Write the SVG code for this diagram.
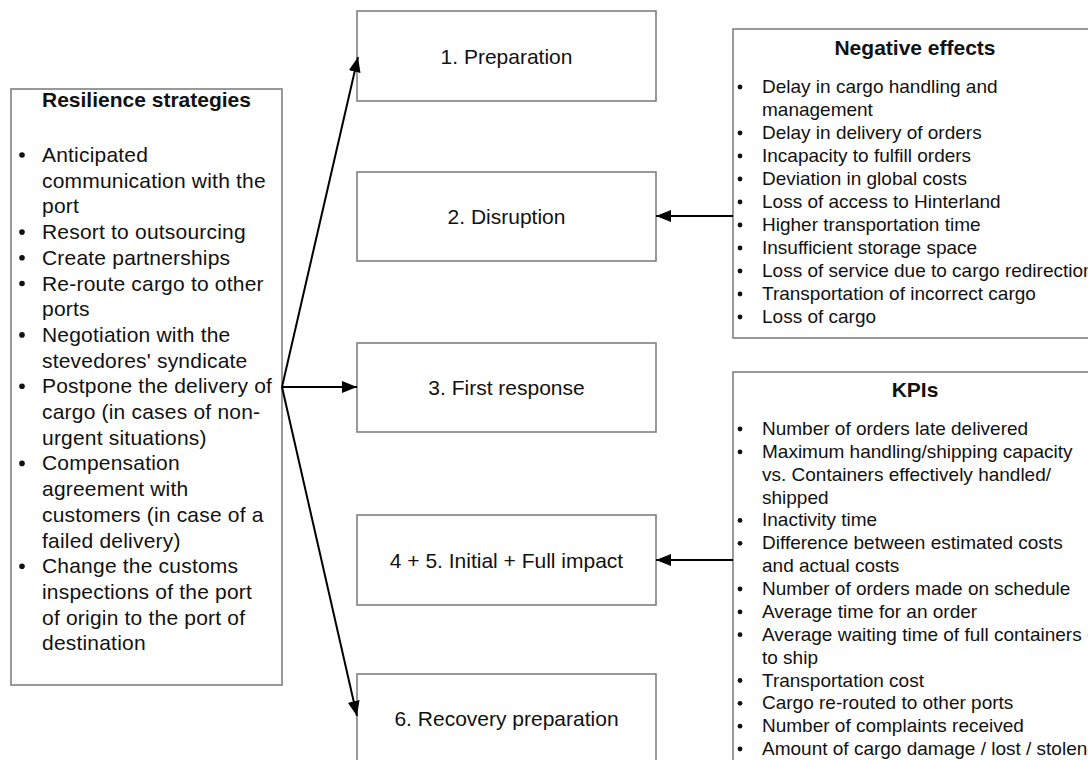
<svg xmlns="http://www.w3.org/2000/svg" width="1088" height="760" viewBox="0 0 1088 760">
  <style>
    .box { fill: #ffffff; stroke: #808080; stroke-width: 1.6; }
    .t { font-family: "Liberation Sans", Arial, sans-serif; fill: #111111; }
    .title { font-weight: bold; text-anchor: middle; font-size: 21px; }
    .lbl { font-size: 21px; text-anchor: middle; }
    .big { font-size: 21px; letter-spacing: 0.2px; }
    .small { font-size: 19px; }
    .dot { fill: #111111; }
    .edge { stroke: #000000; stroke-width: 2; fill: none; }
  </style>
  <defs>
    <marker id="arrow" viewBox="0 0 15 12" refX="15" refY="6" markerWidth="15" markerHeight="12" markerUnits="userSpaceOnUse" orient="auto">
      <path d="M0,0 L15,6 L0,12 Z" fill="#000000"/>
    </marker>
  </defs>

  <rect width="1088" height="760" fill="#ffffff"/>

  <!-- Resilience strategies -->
  <g id="strategies">
    <rect class="box" x="11" y="89" width="271" height="596"/>
    <text class="t title" x="146.5" y="107">Resilience strategies</text>
    <g class="dot">
      <circle cx="22" cy="155" r="2.8"/>
      <circle cx="22" cy="232.1" r="2.8"/>
      <circle cx="22" cy="257.8" r="2.8"/>
      <circle cx="22" cy="283.5" r="2.8"/>
      <circle cx="22" cy="334.9" r="2.8"/>
      <circle cx="22" cy="386.3" r="2.8"/>
      <circle cx="22" cy="463.4" r="2.8"/>
      <circle cx="22" cy="566.2" r="2.8"/>
    </g>
    <text class="t big">
      <tspan x="42" y="162">Anticipated</tspan>
      <tspan x="42" y="187.7">communication with the</tspan>
      <tspan x="42" y="213.4">port</tspan>
      <tspan x="42" y="239.1">Resort to outsourcing</tspan>
      <tspan x="42" y="264.8">Create partnerships</tspan>
      <tspan x="42" y="290.5">Re-route cargo to other</tspan>
      <tspan x="42" y="316.2">ports</tspan>
      <tspan x="42" y="341.9">Negotiation with the</tspan>
      <tspan x="42" y="367.6">stevedores' syndicate</tspan>
      <tspan x="42" y="393.3">Postpone the delivery of</tspan>
      <tspan x="42" y="419">cargo (in cases of non-</tspan>
      <tspan x="42" y="444.7">urgent situations)</tspan>
      <tspan x="42" y="470.4">Compensation</tspan>
      <tspan x="42" y="496.1">agreement with</tspan>
      <tspan x="42" y="521.8">customers (in case of a</tspan>
      <tspan x="42" y="547.5">failed delivery)</tspan>
      <tspan x="42" y="573.2">Change the customs</tspan>
      <tspan x="42" y="598.9">inspections of the port</tspan>
      <tspan x="42" y="624.6">of origin to the port of</tspan>
      <tspan x="42" y="650.3">destination</tspan>
    </text>
  </g>

  <!-- Phases -->
  <g id="phase1">
    <rect class="box" x="357" y="11" width="299" height="90"/>
    <text class="t lbl" x="506.5" y="63.5">1. Preparation</text>
  </g>
  <g id="phase2">
    <rect class="box" x="357" y="172" width="299" height="89"/>
    <text class="t lbl" x="506.5" y="223.5">2. Disruption</text>
  </g>
  <g id="phase3">
    <rect class="box" x="357" y="343" width="299" height="89"/>
    <text class="t lbl" x="506.5" y="394.5">3. First response</text>
  </g>
  <g id="phase45">
    <rect class="box" x="357" y="515" width="299" height="90"/>
    <text class="t lbl" x="506.5" y="567.5">4 + 5. Initial + Full impact</text>
  </g>
  <g id="phase6">
    <rect class="box" x="357" y="674" width="299" height="92"/>
    <text class="t lbl" x="506.5" y="725.5">6. Recovery preparation</text>
  </g>

  <!-- Negative effects -->
  <g id="negative-effects">
    <rect class="box" x="733" y="29" width="370" height="309"/>
    <text class="t title" x="915" y="55">Negative effects</text>
    <g class="dot">
      <circle cx="740" cy="87" r="2.4"/>
      <circle cx="740" cy="133" r="2.4"/>
      <circle cx="740" cy="156" r="2.4"/>
      <circle cx="740" cy="179" r="2.4"/>
      <circle cx="740" cy="202" r="2.4"/>
      <circle cx="740" cy="225" r="2.4"/>
      <circle cx="740" cy="248" r="2.4"/>
      <circle cx="740" cy="271" r="2.4"/>
      <circle cx="740" cy="294" r="2.4"/>
      <circle cx="740" cy="317" r="2.4"/>
    </g>
    <text class="t small">
      <tspan x="762" y="93">Delay in cargo handling and</tspan>
      <tspan x="762" y="116">management</tspan>
      <tspan x="762" y="139">Delay in delivery of orders</tspan>
      <tspan x="762" y="162">Incapacity to fulfill orders</tspan>
      <tspan x="762" y="185">Deviation in global costs</tspan>
      <tspan x="762" y="208">Loss of access to Hinterland</tspan>
      <tspan x="762" y="231">Higher transportation time</tspan>
      <tspan x="762" y="254">Insufficient storage space</tspan>
      <tspan x="762" y="277">Loss of service due to cargo redirection</tspan>
      <tspan x="762" y="300">Transportation of incorrect cargo</tspan>
      <tspan x="762" y="323">Loss of cargo</tspan>
    </text>
  </g>

  <!-- KPIs -->
  <g id="kpis">
    <rect class="box" x="733" y="372" width="370" height="400"/>
    <text class="t title" x="915" y="397">KPIs</text>
    <g class="dot">
      <circle cx="740" cy="429" r="2.4"/>
      <circle cx="740" cy="451.9" r="2.4"/>
      <circle cx="740" cy="520.4" r="2.4"/>
      <circle cx="740" cy="543.3" r="2.4"/>
      <circle cx="740" cy="589" r="2.4"/>
      <circle cx="740" cy="611.9" r="2.4"/>
      <circle cx="740" cy="634.7" r="2.4"/>
      <circle cx="740" cy="680.5" r="2.4"/>
      <circle cx="740" cy="703.3" r="2.4"/>
      <circle cx="740" cy="726.2" r="2.4"/>
      <circle cx="740" cy="749" r="2.4"/>
    </g>
    <text class="t small">
      <tspan x="762" y="435">Number of orders late delivered</tspan>
      <tspan x="762" y="457.9">Maximum handling/shipping capacity</tspan>
      <tspan x="762" y="480.7">vs. Containers effectively handled/</tspan>
      <tspan x="762" y="503.6">shipped</tspan>
      <tspan x="762" y="526.4">Inactivity time</tspan>
      <tspan x="762" y="549.3">Difference between estimated costs</tspan>
      <tspan x="762" y="572.2">and actual costs</tspan>
      <tspan x="762" y="595">Number of orders made on schedule</tspan>
      <tspan x="762" y="617.9">Average time for an order</tspan>
      <tspan x="762" y="640.7">Average waiting time of full containers -</tspan>
      <tspan x="762" y="663.6">to ship</tspan>
      <tspan x="762" y="686.5">Transportation cost</tspan>
      <tspan x="762" y="709.3">Cargo re-routed to other ports</tspan>
      <tspan x="762" y="732.2">Number of complaints received</tspan>
      <tspan x="762" y="755">Amount of cargo damage / lost / stolen</tspan>
    </text>
  </g>

  <!-- Connectors -->
  <g id="connectors">
    <line class="edge" x1="282" y1="387" x2="358" y2="57" marker-end="url(#arrow)"/>
    <line class="edge" x1="282" y1="387" x2="357" y2="387" marker-end="url(#arrow)"/>
    <line class="edge" x1="282" y1="387" x2="357" y2="716" marker-end="url(#arrow)"/>
    <line class="edge" x1="733" y1="216" x2="656" y2="216" marker-end="url(#arrow)"/>
    <line class="edge" x1="733" y1="560" x2="656" y2="560" marker-end="url(#arrow)"/>
  </g>
</svg>
